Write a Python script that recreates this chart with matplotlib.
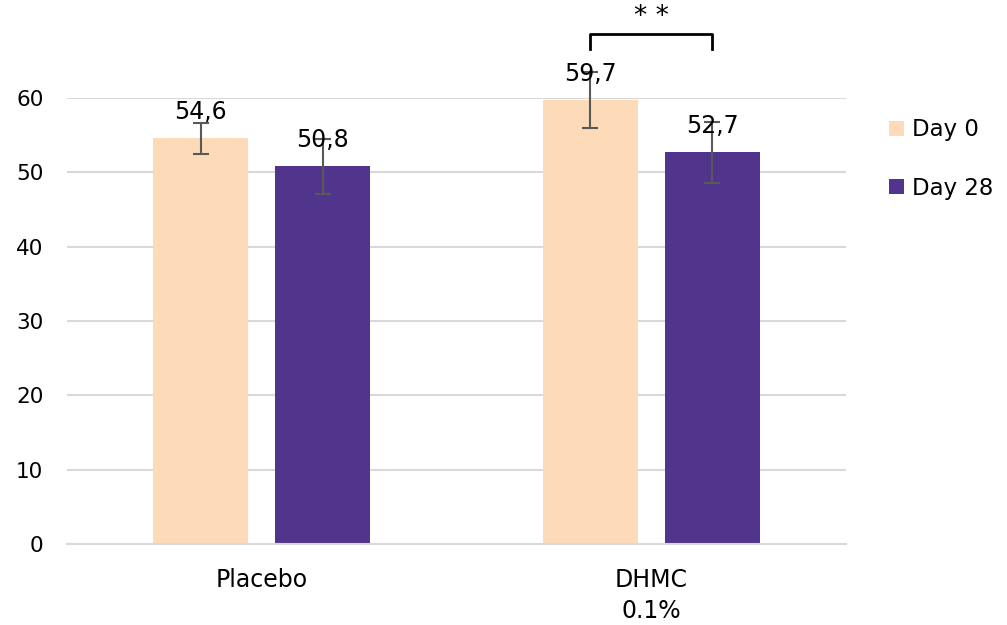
import matplotlib
matplotlib.use("Agg")
import matplotlib.pyplot as plt
import numpy as np

groups = ["Placebo", "DHMC\n0.1%"]
series = ["Day 0", "Day 28"]
day0 = [54.6, 59.7]
day28 = [50.8, 52.7]
err0 = [2.1, 3.8]
err28 = [3.7, 4.1]
labels0 = ["54,6", "59,7"]
labels28 = ["50,8", "52,7"]

colors = ["#FDDAB8", "#51358C"]
grid_c = "#D9D9D9"

plt.rcParams['font.family'] = ['DejaVu Sans']

fig = plt.figure(figsize=(10.07, 6.25), dpi=100)
ax = fig.add_axes([67/1007, 81/625, 779/1007, 446/625])

x = np.arange(len(groups))
w = 0.244
off = 0.1566

for vals, errs, labs, c, sgn, name in [(day0, err0, labels0, colors[0], -1, series[0]),
                                        (day28, err28, labels28, colors[1], 1, series[1])]:
    xs = x + sgn * off
    ax.bar(xs, vals, w, color=c, label=name, zorder=2)
    eb = ax.errorbar(xs, vals, yerr=errs, fmt='none', ecolor="#595959", elinewidth=1.5,
                     capsize=6, capthick=1.5, zorder=3)
    for art in eb.lines[1] + eb.lines[2]:
        art.set_clip_on(False)
    for xi, v, t in zip(xs, vals, labs):
        ax.annotate(t, (xi, v), xytext=(0, 19), textcoords='offset points',
                    ha='center', va='center', fontsize=17, zorder=4)

ax.set_xlim(-0.5, 1.5)
ax.set_ylim(0, 60)
ax.set_yticks(range(0, 61, 10))
ax.set_xticks(x)
ax.set_xticklabels(groups, fontsize=17, linespacing=1.35)
ax.tick_params(axis='y', labelsize=15.5, length=0, pad=17)
ax.tick_params(axis='x', length=0, pad=17.5)
ax.grid(axis='y', color=grid_c, linewidth=1.5, zorder=0)
for s in ["top", "right", "left"]:
    ax.spines[s].set_visible(False)
ax.spines["bottom"].set_color(grid_c)
ax.spines["bottom"].set_linewidth(1.5)

# significance bracket
xl, xr = x[1] - off, x[1] + off
yb, yt = 66.6, 68.6
ax.plot([xl, xl, xr, xr], [yb, yt, yt, yb], color='black', lw=2, clip_on=False)
ax.text(x[1], 70.9, "* *", ha='center', va='center', fontsize=19, clip_on=False)

leg = ax.legend(loc='upper left', bbox_to_anchor=(1.043, 0.975), frameon=False,
                fontsize=16.5, handlelength=0.65, handleheight=0.65, handletextpad=0.35,
                labelspacing=1.55, borderaxespad=0)

fig.savefig("out.png", dpi=100)
